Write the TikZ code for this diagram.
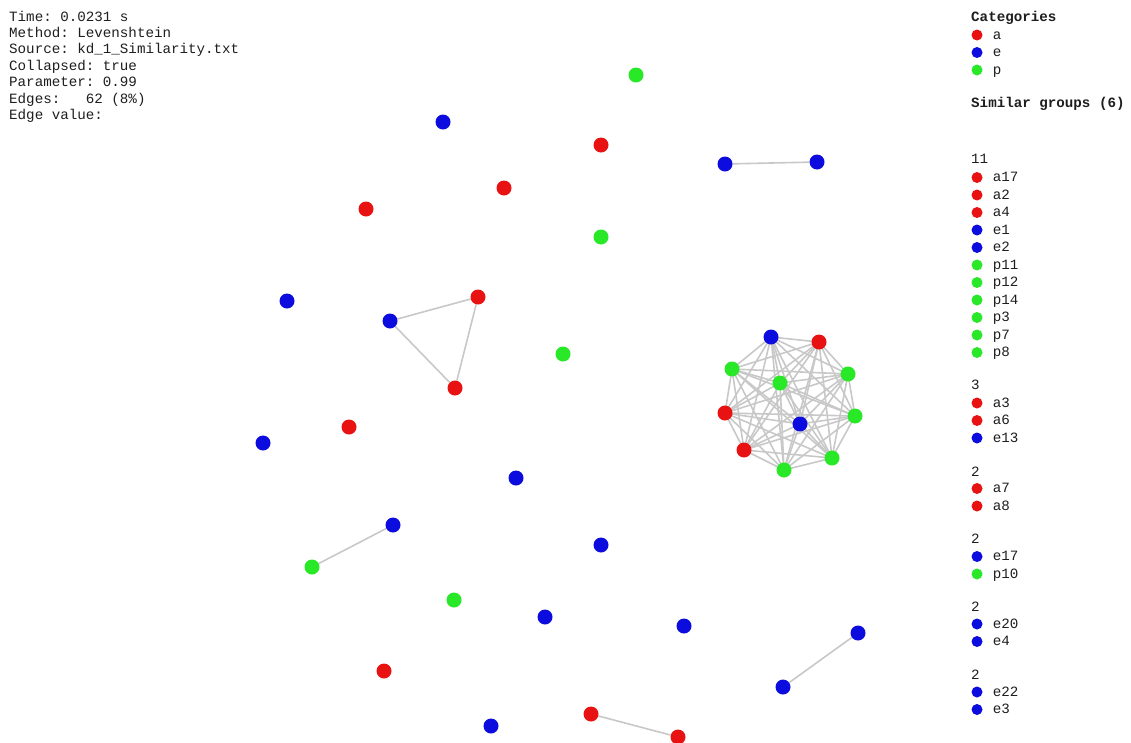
\documentclass[tikz,border=0pt]{standalone}
\usepackage{fontspec}
\setmonofont{Liberation Mono}
\usetikzlibrary{positioning,backgrounds}

\definecolor{nodered}{RGB}{232,18,18}
\definecolor{nodeblue}{RGB}{12,12,222}
\definecolor{nodegreen}{RGB}{40,232,40}
\definecolor{edgegray}{RGB}{200,200,200}
\definecolor{textgray}{RGB}{30,30,30}

\begin{document}
\begin{tikzpicture}[x=1pt,y=-1pt,
  font=\ttfamily\fontsize{14.2}{16}\selectfont,
  dot/.style={circle,fill=#1,inner sep=0pt,minimum size=15pt},
  ldot/.style={circle,fill=#1,inner sep=0pt,minimum size=11pt},
  edge/.style={draw=edgegray,line width=1.6pt},
  txt/.style={inner sep=0pt,anchor=base west,text=textgray},
  ltxt/.style={inner sep=0pt,anchor=west,text height=8pt,text depth=0pt,text=textgray}]

  \useasboundingbox (0,0) rectangle (1131,742);

  % run info
  \foreach \line [count=\i] in {Time: 0.0231 s,Method: Levenshtein,
      Source: kd\_1\_Similarity.txt,Collapsed: true,Parameter: 0.99,
      Edges:\ \ \ 62 (8\%),Edge value:}
    \node[txt] (info\i) at (9,{21+16.4*(\i-1)}) {\line};

  % legend
  \node[txt] (cattitle) at (971,21) {\bfseries Categories};
  \node[ldot=nodered] (cata) at (977,35) {};
  \node[ltxt,right=10pt of cata] {a};
  \node[ldot=nodeblue] (cate) at (977,52.5) {};
  \node[ltxt,right=10pt of cate] {e};
  \node[ldot=nodegreen] (catp) at (977,70) {};
  \node[ltxt,right=10pt of catp] {p};
  \node[txt] (simtitle) at (971,107) {\bfseries Similar groups (6)};

  \node[txt] (head1) at (971,163) {11};
  \foreach \name/\col [count=\i] in {a17/nodered,a2/nodered,a4/nodered,
      e1/nodeblue,e2/nodeblue,p11/nodegreen,p12/nodegreen,p14/nodegreen,
      p3/nodegreen,p7/nodegreen,p8/nodegreen} {
    \node[ldot=\col] (ga\name) at (977,{177.5+17.5*(\i-1)}) {};
    \node[ltxt,right=10pt of ga\name] {\name};
  }
  \node[txt] (head2) at (971,389) {3};
  \foreach \name/\col [count=\i] in {a3/nodered,a6/nodered,e13/nodeblue} {
    \node[ldot=\col] (gb\name) at (977,{403+17.5*(\i-1)}) {};
    \node[ltxt,right=10pt of gb\name] {\name};
  }
  \node[txt] (head3) at (971,476) {2};
  \foreach \name/\col [count=\i] in {a7/nodered,a8/nodered} {
    \node[ldot=\col] (gc\name) at (977,{488.5+17.5*(\i-1)}) {};
    \node[ltxt,right=10pt of gc\name] {\name};
  }
  \node[txt] (head4) at (971,543) {2};
  \foreach \name/\col [count=\i] in {e17/nodeblue,p10/nodegreen} {
    \node[ldot=\col] (gd\name) at (977,{556.5+17.5*(\i-1)}) {};
    \node[ltxt,right=10pt of gd\name] {\name};
  }
  \node[txt] (head5) at (971,611) {2};
  \foreach \name/\col [count=\i] in {e20/nodeblue,e4/nodeblue} {
    \node[ldot=\col] (ge\name) at (977,{624+17.5*(\i-1)}) {};
    \node[ltxt,right=10pt of ge\name] {\name};
  }
  \node[txt] (head6) at (971,679) {2};
  \foreach \name/\col [count=\i] in {e22/nodeblue,e3/nodeblue} {
    \node[ldot=\col] (gf\name) at (977,{692+17.5*(\i-1)}) {};
    \node[ltxt,right=10pt of gf\name] {\name};
  }

  % big group
  \node[dot=nodered] (a17) at (819,342) {};
  \node[dot=nodered] (a2) at (725,413) {};
  \node[dot=nodered] (a4) at (744,450) {};
  \node[dot=nodeblue] (e1) at (771,337) {};
  \node[dot=nodeblue] (e2) at (800,424) {};
  \node[dot=nodegreen] (p11) at (732,369) {};
  \node[dot=nodegreen] (p12) at (780,383) {};
  \node[dot=nodegreen] (p14) at (848,374) {};
  \node[dot=nodegreen] (p3) at (855,416) {};
  \node[dot=nodegreen] (p7) at (832,458) {};
  \node[dot=nodegreen] (p8) at (784,470) {};

  % small groups
  \node[dot=nodered] (a3) at (478,297) {};
  \node[dot=nodered] (a6) at (455,388) {};
  \node[dot=nodeblue] (e13) at (390,321) {};
  \node[dot=nodered] (a7) at (591,714) {};
  \node[dot=nodered] (a8) at (678,737) {};
  \node[dot=nodeblue] (e17) at (393,525) {};
  \node[dot=nodegreen] (p10) at (312,567) {};
  \node[dot=nodeblue] (e20) at (858,633) {};
  \node[dot=nodeblue] (e4) at (783,687) {};
  \node[dot=nodeblue] (e22) at (725,164) {};
  \node[dot=nodeblue] (e3) at (817,162) {};

  % single nodes
  \node[dot=nodered] (a1) at (601,145) {};
  \node[dot=nodered] (a5) at (504,188) {};
  \node[dot=nodered] (a9) at (366,209) {};
  \node[dot=nodered] (a10) at (349,427) {};
  \node[dot=nodered] (a11) at (384,671) {};
  \node[dot=nodeblue] (e5) at (443,122) {};
  \node[dot=nodeblue] (e6) at (287,301) {};
  \node[dot=nodeblue] (e7) at (263,443) {};
  \node[dot=nodeblue] (e8) at (516,478) {};
  \node[dot=nodeblue] (e9) at (601,545) {};
  \node[dot=nodeblue] (e10) at (545,617) {};
  \node[dot=nodeblue] (e11) at (684,626) {};
  \node[dot=nodeblue] (e12) at (491,726) {};
  \node[dot=nodegreen] (p1) at (636,75) {};
  \node[dot=nodegreen] (p2) at (601,237) {};
  \node[dot=nodegreen] (p4) at (563,354) {};
  \node[dot=nodegreen] (p5) at (454,600) {};

  \begin{pgfonlayer}{background}
    \foreach \u [count=\i] in {a17,a2,a4,e1,e2,p11,p12,p14,p3,p7,p8} {
      \foreach \v [count=\j] in {a17,a2,a4,e1,e2,p11,p12,p14,p3,p7,p8} {
        \ifnum\j>\i \draw[edge] (\u.center) -- (\v.center); \fi
      }
    }
    \draw[edge] (e13) -- (a3) -- (a6) -- (e13);
    \draw[edge] (a7) -- (a8);
    \draw[edge] (e17) -- (p10);
    \draw[edge] (e20) -- (e4);
    \draw[edge] (e22) -- (e3);
  \end{pgfonlayer}
\end{tikzpicture}
\end{document}
